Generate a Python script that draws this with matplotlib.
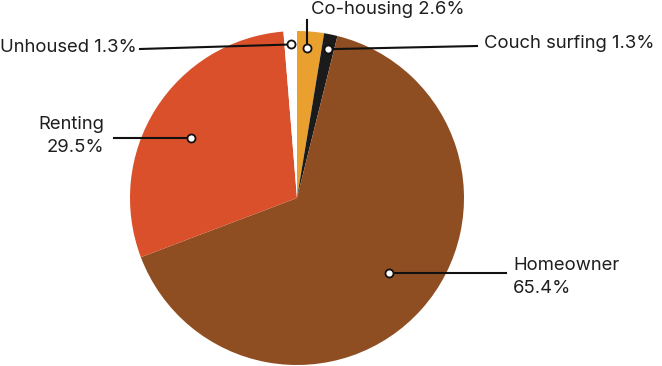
import numpy as np
import matplotlib
matplotlib.use("Agg")
import matplotlib.pyplot as plt

# data, clockwise from 12 o'clock
labels = ["Co-housing", "Couch surfing", "Homeowner", "Renting", "Unhoused"]
shares = [2.6, 1.3, 65.4, 29.5, 1.3]
colors = ["#E9A02F", "#1B1B1B", "#8F4E22", "#D9502A", "#FFFFFF"]
label_text = ["Co-housing 2.6%", "Couch surfing 1.3%", "Homeowner\n65.4%",
              "Renting\n29.5%", "Unhoused 1.3%"]

W, H = 662, 366
plt.rcParams["font.family"] = ["Inter", "DejaVu Sans"]
fig = plt.figure(figsize=(W / 100, H / 100), dpi=100)
ax = fig.add_axes([0, 0, 1, 1])

cx, cy, R = 297, H - 198, 167
wedges, _ = ax.pie(shares, colors=colors, startangle=90, counterclock=False,
                   center=(cx, cy), radius=R, wedgeprops=dict(linewidth=0))
ax.set_xlim(0, W); ax.set_ylim(0, H); ax.set_aspect("equal"); ax.axis("off")

# label layout (pixels, y from top):
# marker radius fraction, angle nudge (deg), line end (None -> vertical / horizontal), text anchor, ha
layout = {
    "Co-housing":    (0.90, 1.0, "up",       (311, 10),  "left"),
    "Couch surfing": (0.91, 0.0, (477, 46),  (484, 43),  "left"),
    "Homeowner":     (0.71, 2.7, (506, None), (513, 277), "left"),
    "Renting":       (0.73, 3.0, (114, None), (104, 136), "right"),
    "Unhoused":      (0.92, 0.0, (140, 49),  (137, 47),  "right"),
}
for w, lab, txt in zip(wedges, labels, label_text):
    frac, nudge, end, tpos, ha = layout[lab]
    a = np.deg2rad((w.theta1 + w.theta2) / 2 + nudge)
    mx, my = cx + frac * R * np.cos(a), cy + frac * R * np.sin(a)
    if end == "up":
        ex, ey = mx, H - 20
    else:
        ex, ey = end[0], (my if end[1] is None else H - end[1])
    ax.plot([mx, ex], [my, ey], color="#111111", lw=1.5, zorder=3)
    ax.plot(mx, my, "o", ms=5.8, mfc="white", mec="#111111", mew=1.3, zorder=4)
    ax.text(tpos[0], H - tpos[1], txt, ha=ha, va="center", multialignment=ha,
            fontsize=13.3, color="#1E1E1E", linespacing=1.45)

fig.savefig("out.png", dpi=100)
